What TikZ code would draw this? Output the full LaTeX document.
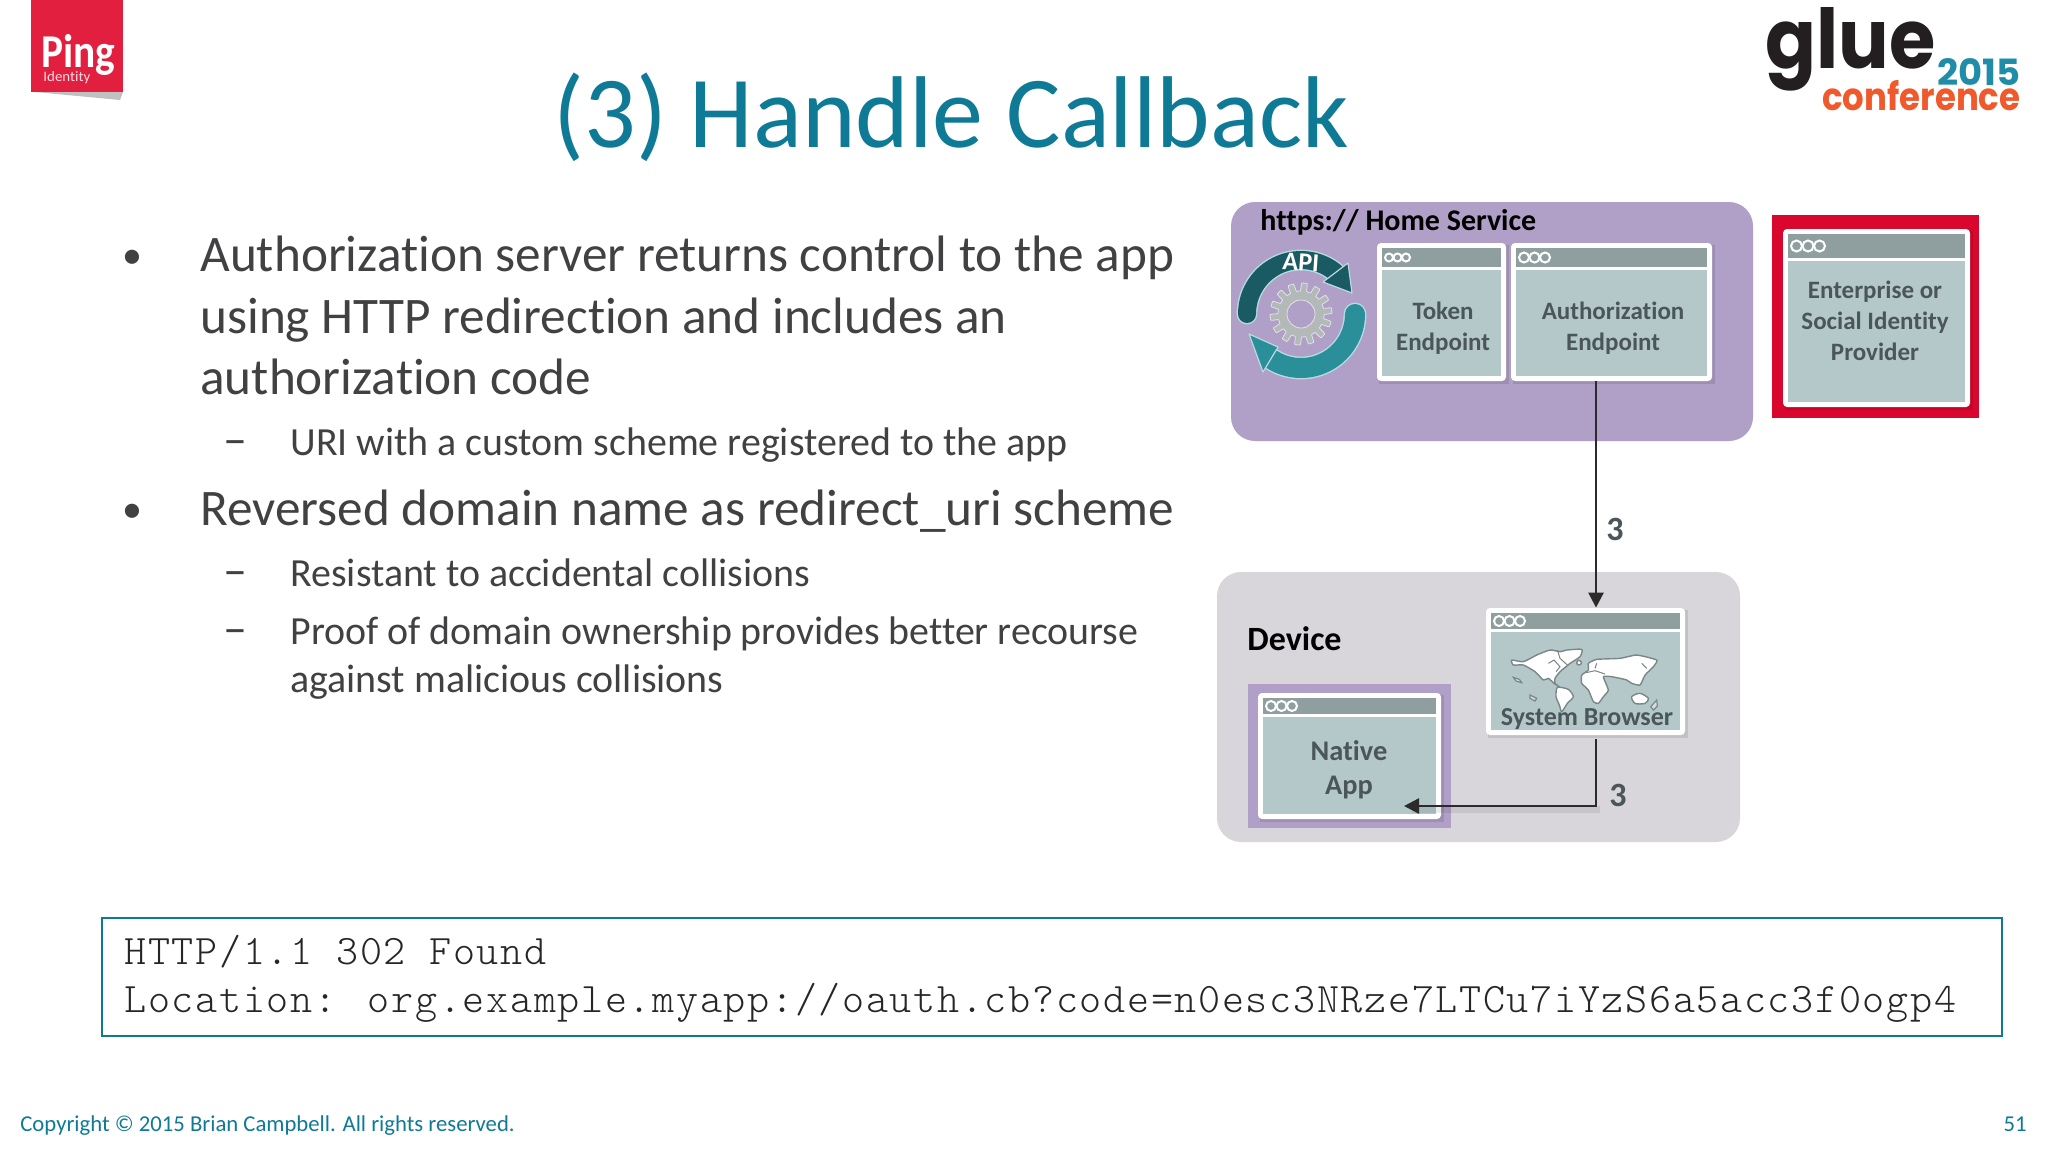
\documentclass[tikz,border=0pt]{standalone}
\usepackage{graphicx}
\usepackage{fontspec}
\setmainfont[Ligatures=CommonOff]{Carlito}
\newfontfamily\logofont{Poppins}
\newfontfamily\codefont[LetterSpace=4.0]{Latin Modern Mono Light}
\usetikzlibrary{arrows.meta,calc}
\definecolor{titleteal}{HTML}{0F7A95}
\definecolor{bodytxt}{HTML}{414042}
\definecolor{purplepanel}{HTML}{B09FC7}
\definecolor{devicepanel}{HTML}{D8D6DA}
\definecolor{winbar}{HTML}{8F9E9F}
\definecolor{winbody}{HTML}{B4C8CA}
\definecolor{wintext}{HTML}{4A5659}
\definecolor{pingred}{HTML}{E21F3F}
\definecolor{idred}{HTML}{D9062E}
\definecolor{apidark}{HTML}{1A5A63}
\definecolor{apilight}{HTML}{2B8F9A}
\definecolor{apiedge}{HTML}{B6DCE2}
\definecolor{gearcol}{HTML}{B3B8B8}
\definecolor{arrowcol}{HTML}{2B2B2B}
\definecolor{gluegrey}{HTML}{231F20}
\definecolor{glueblue}{HTML}{1F8CA8}
\definecolor{glueorange}{HTML}{F0592B}
\tikzset{
  px/.style={x=0.5pt,y=-0.5pt},
  lvlone/.style={anchor=base west,inner sep=0,text=bodytxt,font=\fontsize{25.62}{25.62}\selectfont},
  lvltwo/.style={anchor=base west,inner sep=0,text=bodytxt,font=\fontsize{19.95}{19.95}\selectfont},
  bulletmark/.style={anchor=base west,inner sep=0,text=bodytxt,font=\fontsize{20}{20}\selectfont},
  dashmark/.style={anchor=base west,inner sep=0,text=bodytxt,font=\fontsize{24}{24}\selectfont},
  wintxt/.style={align=center,inner sep=0,text=wintext,font=\bfseries\fontsize{12.5}{15.5}\selectfont},
  panelhead/.style={anchor=base west,inner sep=0,text=black,font=\bfseries\fontsize{15}{15}\selectfont},
  steplabel/.style={anchor=center,inner sep=0,text=wintext,font=\bfseries\fontsize{17}{17}\selectfont},
  flowarrow/.style={draw=arrowcol,line width=1.25pt,-{Triangle[length=7.5pt,width=7.5pt]}},
  footertxt/.style={inner sep=0,text=titleteal,font=\fontsize{11.35}{11.35}\selectfont},
  continent/.style={fill=white,draw=winbar!85!black,line width=0.7pt,line join=round},
  mapline/.style={draw=winbar!85!black,line width=0.5pt},
  island/.style={draw=winbar!85!black,fill=winbody!60!white,line width=0.6pt},
}
% name, x1, y1, x2, y2, frame, bar height, dot radius
\newcommand{\appwin}[8]{%
  \fill[black,opacity=0.10] (#2+2,#3+2) rectangle (#4+3,#5+3);
  \pgfmathsetmacro\wpt{(#4-#2)/2}\pgfmathsetmacro\hpt{(#5-#3)/2}%
  \node[fill=white,rounded corners=2pt,inner sep=0,minimum width=\wpt pt,minimum height=\hpt pt] (#1) at ({(#2+#4)/2},{(#3+#5)/2}) {};
  \fill[winbar] (#2+#6,#3+#6) rectangle (#4-#6,#3+#6+#7);
  \fill[winbody] (#2+#6,#3+#6+#7+3) rectangle (#4-#6,#5-#6);
  \foreach \k in {0,1,2}{
    \draw[white,line width=1pt] ({#2+#6+#8+3+\k*(2*#8+0.5)},{#3+#6+#7/2}) circle[radius=#8];
  }
}
\begin{document}
\begin{tikzpicture}[px]
\useasboundingbox (0,0) rectangle (2048,1152);
\fill[white] (0,0) rectangle (2048,1152);

% Ping logo
\fill[black!35,opacity=.7] (35,92) -- (123,92) -- (120,100) -- cycle;
\node[fill=pingred,inner sep=0,minimum width=46pt,minimum height=46pt] (pinglogo) at (77,46) {};
\node[inner sep=0,anchor=base west,text=white] (pingword) at (41,67) {\resizebox{37pt}{16.5pt}{\bfseries Ping}};
\node[inner sep=0,anchor=base west,text=white!85!pingred] (pingsub) at (43,81) {\resizebox{23.5pt}{5pt}{Identity}};

% glue logo
\node[inner sep=0,anchor=base west,text=gluegrey] (glueword) at (1765,68) {\resizebox{85pt}{30.5pt}{\logofont\bfseries glue}};
\node[inner sep=0,anchor=base west,text=glueblue] (glueyear) at (1937,85) {\resizebox{41.5pt}{13.5pt}{\logofont\bfseries 2015}};
\node[inner sep=0,anchor=base west,text=glueorange] (gluecon) at (1822,110) {\resizebox{99pt}{15pt}{\logofont\bfseries conference}};

% Title
\node[inner sep=0,anchor=base west,text=titleteal,font=\fontsize{51}{51}\selectfont] (title) at (553,147) {(3) Handle Callback};

% Body
\node[bulletmark] (b1) at (122,268) {•};
\node[lvlone] (t1a) at (200,271) {Authorization server returns control to the app};
\node[lvlone] (t1b) at (200,333) {using HTTP redirection and includes an};
\node[lvlone] (t1c) at (200,394) {authorization code};
\node[dashmark] (d1) at (223,455) {–};
\node[lvltwo] (t2) at (290,455) {URI with a custom scheme registered to the app};
\node[bulletmark] (b2) at (122,522) {•};
\node[lvlone] (t3) at (200,525) {Reversed domain name as redirect\_uri scheme};
\node[dashmark] (d2) at (223,586) {–};
\node[lvltwo] (t4) at (290,586) {Resistant to accidental collisions};
\node[dashmark] (d3) at (223,644) {–};
\node[lvltwo] (t5a) at (290,644) {Proof of domain ownership provides better recourse};
\node[lvltwo] (t5b) at (290,692) {against malicious collisions};

% Home Service panel
\fill[purplepanel,rounded corners=12pt] (1231,202) rectangle (1753,441);
\node[panelhead] (homehead) at (1260,230) {https:// Home Service};

% API icon
\foreach \col/\wd in {apiedge/10.4pt,apidark/9pt}{
  \draw[\col,line width=\wd,line cap=round] plot[domain=180:50,samples=40] ({1301+54*cos(\x)},{314-54*sin(\x)});
}
\fill[apidark,draw=apiedge,line width=.6pt,line join=round] (1348,263) -- (1352,293) -- (1323,282) -- cycle;
\foreach \col/\wd in {apiedge/11.4pt,apilight/10pt}{
  \draw[\col,line width=\wd,line cap=round] plot[domain=0:-124,samples=40] ({1301+54*cos(\x)},{314-54*sin(\x)});
}
\fill[apilight,draw=apiedge,line width=.6pt,line join=round] (1249,334) -- (1278,347) -- (1263,372) -- cycle;
\node[inner sep=0,rotate=-4,text=white,font=\bfseries\fontsize{13}{13}\selectfont] (apitext) at (1301,262) {API};
\path[fill=gearcol,draw=white!60!gearcol,line width=.4pt,even odd rule] plot[domain=0:360,samples=360] ({1301+(27+4*tanh(6*sin(14*\x)))*cos(\x)},{314-(27+4*tanh(6*sin(14*\x)))*sin(\x)}) -- cycle
  (1301,314) circle[radius=14];

% Windows in Home panel
\appwin{token}{1377}{243}{1506}{381}{5}{19}{4}
\node[wintxt] (tokentxt) at (1443,328) {Token\\Endpoint};
\appwin{auth}{1511}{243}{1712}{381}{5}{19}{5}
\node[wintxt] (authtxt) at (1613,328) {Authorization\\Endpoint};

% Identity provider
\node[fill=idred,inner sep=0,minimum width=103.5pt,minimum height=101.5pt] (idp) at (1875.5,316.5) {};
\appwin{enterprise}{1783}{229}{1970}{407}{5}{24}{5.5}
\node[wintxt] (enttxt) at (1875,321) {Enterprise or\\Social Identity\\Provider};

% Device panel
\fill[devicepanel,rounded corners=12pt] (1217,572) rectangle (1740,842);
\node[panelhead,font=\bfseries\fontsize{17}{17}\selectfont] (devhead) at (1247,650) {Device};

% Native app
\node[fill=purplepanel,inner sep=0,minimum width=101.5pt,minimum height=72pt] (nativeback) at (1349.5,756) {};
\appwin{native}{1258}{693}{1441}{819}{5}{16}{5}
\node[wintxt,font=\bfseries\fontsize{14.2}{17}\selectfont] (nativetxt) at (1349,770) {Native\\App};

% System browser
\appwin{browser}{1486}{608}{1685}{735}{5}{16}{5}
\begin{scope}[shift={(1480,600)},x=0.1667pt,y=-0.1667pt]
  % North America and Greenland
  \draw[continent] plot[smooth cycle,tension=.35] coordinates {(95,180) (130,185) (170,165) (210,150) (240,155) (260,150) (305,148) (300,170) (270,190) (258,200) (240,215) (225,235) (225,250) (240,262) (222,250) (205,235) (190,240) (165,215) (130,195) (100,195)};
  \draw[mapline] (232,150) -- (240,175) -- (262,195);
  \draw[mapline] (205,190) -- (222,180) -- (240,200) -- (228,215);
  % South America
  \draw[continent] plot[smooth cycle,tension=.4] coordinates {(232,262) (265,268) (280,290) (262,310) (245,335) (238,315) (228,290)};
  % Eurasia and Africa
  \draw[continent] plot[smooth cycle,tension=.3] coordinates {(325,190) (350,178) (420,175) (470,165) (530,180) (520,200) (495,225) (480,255) (455,250) (440,240) (420,235) (395,230) (370,230) (385,270) (370,290) (355,310) (340,305) (325,270) (305,250) (305,225) (325,210)};
  \draw[mapline] (318,218) -- (345,212) -- (375,222);
  \draw[mapline] (350,190) -- (345,205);
  \draw[mapline] (485,190) -- (500,205);
  % Iceland
  \draw[continent] (297,188) circle[radius=7];
  % Australia
  \draw[continent] plot[smooth cycle,tension=.5] coordinates {(455,290) (480,280) (505,295) (495,310) (465,310)};
  \draw[island] (100,232) -- (118,238) -- (125,248) -- (108,243) -- cycle;
  \draw[island] (150,285) -- (170,295) -- (165,303) -- (150,295) -- cycle;
  \draw[island] (512,320) -- (530,300) -- (532,318) -- (520,330) -- cycle;
\end{scope}
\node[wintxt,font=\bfseries\fontsize{13}{13}\selectfont] (browsertxt) at (1587,719) {System Browser};

% Connectors
\coordinate (flowx) at (1596,0);
\coordinate (nativein) at (1404,806);
\coordinate (browserout) at (1596,739);
\coordinate (bend) at (1596,806);
\draw[flowarrow] (auth.south -| flowx) -- (browser.north -| flowx);
\node[steplabel] (lab1) at (1615,529) {3};
\fill[black,opacity=.08] (1412,806) rectangle (1600,813);
\draw[flowarrow,rounded corners=0pt] (browserout) -- (bend) -- (nativein);
\node[steplabel] (lab2) at (1618,795) {3};

% Code box
\node[draw=titleteal,line width=1pt,fill=white,inner sep=0,minimum width=950pt,minimum height=59pt] (codebox) at (1052,977) {};
\node[inner sep=0,anchor=base west,text=black!85,font=\codefont\fontsize{21}{21}\selectfont] (code1) at (124,964) {HTTP/1.1 302 Found};
\node[inner sep=0,anchor=base west,text=black!85,font=\codefont\fontsize{21}{21}\selectfont] (code2) at (124,1012) {Location: org.example.myapp://oauth.cb?code=n0esc3NRze7LTCu7iYzS6a5acc3f0ogp4};

% Footer
\node[footertxt,anchor=base west] (copy) at (20,1131) {Copyright © 2015 Brian Campbell. All rights reserved.};
\node[footertxt,anchor=base east] (page) at (2027,1131) {51};
\end{tikzpicture}
\end{document}
